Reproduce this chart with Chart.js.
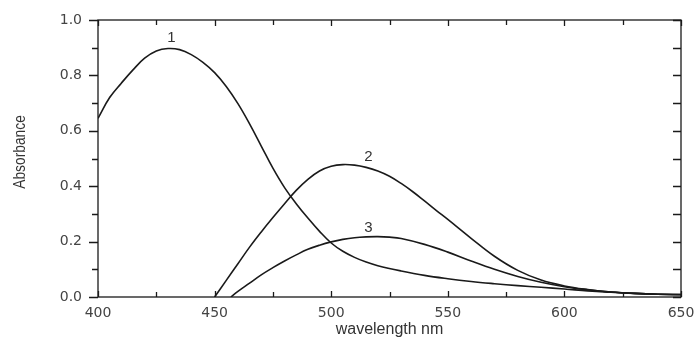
<!DOCTYPE html>
<html>
<head>
<meta charset="utf-8">
<script src="https://cdn.jsdelivr.net/npm/chart.js@4/dist/chart.umd.min.js"></script>
<style>
  html, body { margin: 0; padding: 0; background: #fff; }
  #wrap { width: 696px; height: 342px; }
</style>
</head>
<body>
<div id="wrap"><canvas id="spectra"></canvas></div>
<script>
// values
const wl1 = [400, 405, 410, 415, 420, 425, 430, 435, 440, 445, 450, 455, 460, 465, 470, 475, 480, 485, 490, 495, 500, 505, 510, 515, 520, 530, 540, 550, 560, 570, 580, 590, 600, 610, 620, 630, 640, 650];
const abs1 = [0.645, 0.72, 0.772, 0.82, 0.862, 0.888, 0.897, 0.893, 0.875, 0.847, 0.81, 0.76, 0.698, 0.625, 0.545, 0.465, 0.395, 0.337, 0.285, 0.237, 0.195, 0.165, 0.143, 0.126, 0.113, 0.094, 0.078, 0.066, 0.056, 0.048, 0.041, 0.035, 0.029, 0.022, 0.017, 0.013, 0.01, 0.008];

const wl2 = [450, 455, 460, 465, 470, 475, 480, 485, 490, 495, 500, 505, 510, 515, 520, 525, 530, 535, 540, 545, 550, 560, 570, 580, 590, 600, 610, 620, 630, 640, 650];
const abs2 = [0.0, 0.06, 0.12, 0.18, 0.235, 0.287, 0.337, 0.385, 0.425, 0.455, 0.472, 0.478, 0.476, 0.468, 0.455, 0.436, 0.41, 0.38, 0.347, 0.313, 0.28, 0.212, 0.147, 0.096, 0.061, 0.04, 0.027, 0.018, 0.013, 0.01, 0.009];

const wl3 = [457, 460, 465, 470, 475, 480, 485, 490, 495, 500, 505, 510, 515, 520, 525, 530, 540, 550, 560, 570, 580, 590, 600, 610, 620, 630, 640, 650];
const abs3 = [0.0, 0.02, 0.05, 0.08, 0.106, 0.13, 0.152, 0.172, 0.187, 0.199, 0.208, 0.214, 0.217, 0.218, 0.216, 0.211, 0.19, 0.162, 0.13, 0.1, 0.074, 0.053, 0.037, 0.026, 0.018, 0.013, 0.01, 0.009];

const curveLabels = ['1', '2', '3'];
const labelX = [431.5, 516, 516];
const labelY = [0.935, 0.505, 0.25];

const xTicks = [400, 450, 500, 550, 600, 650];
const yTicks = [0.0, 0.2, 0.4, 0.6, 0.8, 1.0];
const yTitle = 'Absorbance';

function toPoints(xs, ys) {
  return xs.map((x, i) => ({ x: x, y: ys[i] }));
}

function curve(xs, ys) {
  return {
    data: toPoints(xs, ys),
    showLine: true,
    borderColor: '#1a1a1a',
    borderWidth: 1.6,
    pointRadius: 0,
    tension: 0.4,
    fill: false
  };
}

// frame ticks (left outward, other sides inward), curve numbers, y title
const framePlugin = {
  id: 'frame',
  afterDraw(chart) {
    const ctx = chart.ctx;
    const a = chart.chartArea;
    const xs = chart.scales.x, ys = chart.scales.y;
    ctx.save();
    ctx.strokeStyle = '#1a1a1a';
    ctx.lineWidth = 1.3;
    ctx.strokeRect(a.left, a.top, a.right - a.left, a.bottom - a.top);
    ctx.beginPath();
    for (let v = 400; v <= 650; v += 25) {
      const px = Math.round(xs.getPixelForValue(v)) + 0.5;
      const len = v % 50 === 0 ? 6 : 5;
      ctx.moveTo(px, a.bottom); ctx.lineTo(px, a.bottom - len);
      ctx.moveTo(px, a.top); ctx.lineTo(px, a.top + len);
    }
    for (let i = 0; i <= 10; i++) {
      const py = Math.round(ys.getPixelForValue(i / 10)) + 0.5;
      const len = i % 2 === 0 ? 9 : 6;
      ctx.moveTo(a.left, py); ctx.lineTo(a.left - len, py);
      ctx.moveTo(a.right, py); ctx.lineTo(a.right - 8, py);
    }
    ctx.stroke();

    ctx.fillStyle = '#333';
    ctx.font = '15px "Liberation Sans", Arial, sans-serif';
    ctx.textAlign = 'center';
    ctx.textBaseline = 'middle';
    curveLabels.forEach((t, i) => {
      ctx.fillText(t, xs.getPixelForValue(labelX[i]), ys.getPixelForValue(labelY[i]));
    });

    ctx.translate(20, 152);
    ctx.rotate(-Math.PI / 2);
    ctx.scale(0.92, 1.1);
    ctx.fillText(yTitle, 0, 0);
    ctx.restore();
  }
};

new Chart(document.getElementById('spectra'), {
  type: 'scatter',
  data: {
    datasets: [curve(wl1, abs1), curve(wl2, abs2), curve(wl3, abs3)]
  },
  options: {
    responsive: true,
    maintainAspectRatio: false,
    animation: false,
    layout: { padding: { top: 20, right: 15, left: 0, bottom: 0 } },
    plugins: { legend: { display: false }, tooltip: { enabled: false } },
    scales: {
      x: {
        type: 'linear',
        min: 400,
        max: 650,
        afterBuildTicks: s => { s.ticks = xTicks.map(v => ({ value: v })); },
        afterFit: s => { s.height = 45; },
        grid: { display: false },
        border: { display: false },
        ticks: {
          color: '#444',
          font: { family: '"DejaVu Sans", sans-serif', size: 14 },
          padding: 0,
          maxRotation: 0
        },
        title: {
          display: true,
          text: 'wavelength nm',
          color: '#333',
          font: { family: '"Liberation Sans", Arial, sans-serif', size: 16 },
          padding: { top: 0, bottom: 3 }
        }
      },
      y: {
        min: 0,
        max: 1,
        afterBuildTicks: s => { s.ticks = yTicks.map(v => ({ value: v })); },
        afterFit: s => { s.width = 98; },
        grid: { display: false },
        border: { display: false },
        ticks: {
          color: '#444',
          font: { family: '"DejaVu Sans", sans-serif', size: 14 },
          padding: 8,
          callback: v => v.toFixed(1)
        }
      }
    }
  },
  plugins: [framePlugin]
});
</script>
</body>
</html>
